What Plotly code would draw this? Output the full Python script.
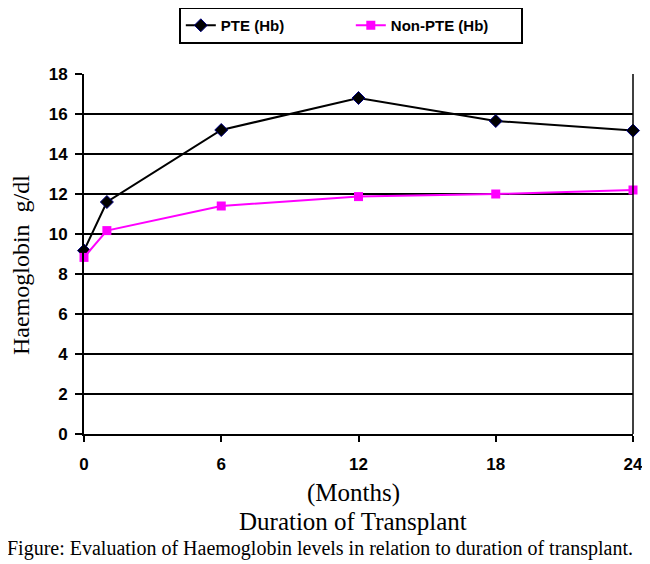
import plotly.graph_objects as go

# Haemoglobin (g/dl) vs months after transplant
months = [0, 1, 6, 12, 18, 24]
pte_hb = [9.17, 11.6, 15.2, 16.8, 15.65, 15.17]
non_pte_hb = [8.83, 10.17, 11.4, 11.87, 12.0, 12.2]
x_ticks = [0, 6, 12, 18, 24]
y_ticks = [0, 2, 4, 6, 8, 10, 12, 14, 16, 18]

fig = go.Figure()

fig.add_trace(go.Scatter(
    x=months, y=pte_hb,
    mode='lines+markers',
    name='PTE (Hb)',
    line=dict(color='black', width=2),
    marker=dict(symbol='diamond', size=10, color='black',
                line=dict(color='#000080', width=1)),
    cliponaxis=False
))

fig.add_trace(go.Scatter(
    x=months, y=non_pte_hb,
    mode='lines+markers',
    name='Non-PTE (Hb)',
    line=dict(color='#ff00ff', width=2),
    marker=dict(symbol='square', size=9, color='#ff00ff'),
    cliponaxis=False
))

tick_font = dict(family='Liberation Sans, Arial', size=17, color='black', weight='bold')
serif = 'Liberation Serif, Times New Roman'

# the page body adds an 8px offset, so margins are shifted accordingly
fig.update_layout(
    width=650, height=564,
    margin=dict(l=76, r=25, t=66, b=138, autoexpand=False),
    paper_bgcolor='white',
    plot_bgcolor='white',
    showlegend=True,
    legend=dict(
        orientation='h',
        x=0.486, xanchor='center',
        y=1.186, yanchor='top',
        bordercolor='black', borderwidth=2,
        font=dict(family='Liberation Sans, Arial', size=15, color='black', weight='bold'),
        itemwidth=30,
        entrywidth=125, entrywidthmode='pixels',
        tracegroupgap=0
    ),
    xaxis=dict(
        range=[0, 24],
        tickvals=x_ticks,
        tickfont=tick_font,
        showgrid=False,
        zeroline=False,
        showline=True, linecolor='black', linewidth=2,
        ticks='outside', ticklen=6, tickcolor='black', tickwidth=1.5,
        ticklabelstandoff=8,
        automargin=False,
    ),
    yaxis=dict(
        range=[0, 18],
        tickvals=y_ticks,
        tickfont=tick_font,
        showgrid=True, gridcolor='black', gridwidth=1.5,
        zeroline=False,
        showline=True, linecolor='black', linewidth=2,
        ticks='outside', ticklen=7, tickcolor='black', tickwidth=1.5,
        ticklabelstandoff=4,
        automargin=False,
    ),
)

# right border of plot area
fig.add_shape(type='line', xref='paper', yref='paper',
              x0=1, x1=1, y0=0, y1=1,
              line=dict(color='black', width=1.5))

fig.add_annotation(text='Haemoglobin  g/dl', xref='paper', yref='paper',
                   x=-0.115, xanchor='center', y=0.469, yanchor='middle',
                   textangle=-90, showarrow=False,
                   font=dict(family=serif, size=24, color='black'))
fig.add_annotation(text='(Months)', xref='paper', yref='paper',
                   x=0.49, y=-0.164, yanchor='middle', showarrow=False,
                   font=dict(family=serif, size=25, color='black'))
fig.add_annotation(text='Duration of Transplant', xref='paper', yref='paper',
                   x=0.49, y=-0.242, yanchor='middle', showarrow=False,
                   font=dict(family=serif, size=25, color='black'))
fig.add_annotation(text='Figure: Evaluation of Haemoglobin levels in relation to duration of transplant.',
                   xref='paper', yref='paper',
                   x=-0.144, xanchor='left', y=-0.318, yanchor='middle', showarrow=False,
                   font=dict(family=serif, size=20, color='black'))

fig.write_html("out.html")
